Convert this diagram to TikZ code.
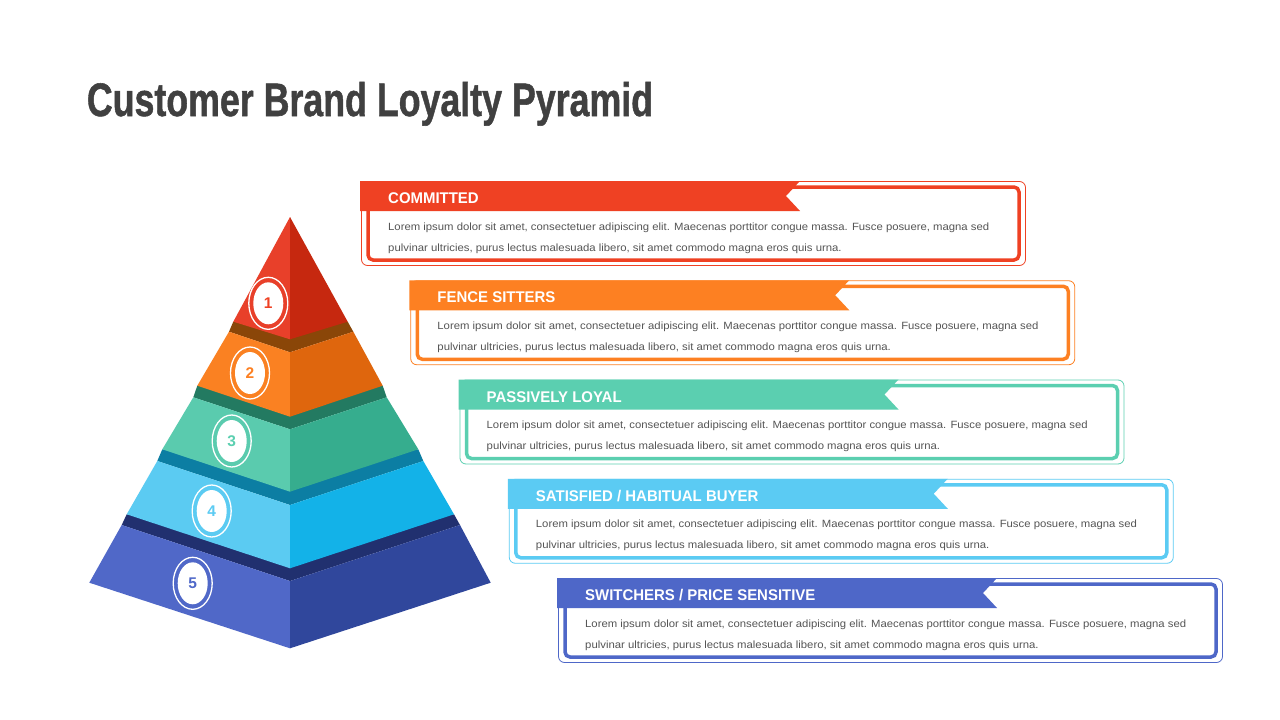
\documentclass[tikz,border=0pt]{standalone}
\usepackage{fontspec}
\setmainfont{Liberation Sans}
\newfontfamily\cardfont{Liberation Sans}[FakeStretch=0.965]
\newfontfamily\headfont{Liberation Sans}[FakeBold=1.2]
\usepackage{graphicx}
\definecolor{titlegray}{HTML}{404040}
\definecolor{bodygray}{HTML}{555555}
\definecolor{cRed}{HTML}{EF4123}
\definecolor{cOrange}{HTML}{FD8022}
\definecolor{cTeal}{HTML}{5BCFB0}
\definecolor{cSky}{HTML}{5BCBF3}
\definecolor{cBlue}{HTML}{4E67C8}
% pyramid faces
\definecolor{pAl}{HTML}{E8402A}\definecolor{pAr}{HTML}{C6280F}
\definecolor{pBt}{HTML}{8A4608}\definecolor{pBl}{HTML}{FA8122}\definecolor{pBr}{HTML}{DF660D}
\definecolor{pCt}{HTML}{237A61}\definecolor{pCl}{HTML}{5ACBAE}\definecolor{pCr}{HTML}{36AD8E}
\definecolor{pDt}{HTML}{0C7EA3}\definecolor{pDl}{HTML}{5BCBF2}\definecolor{pDr}{HTML}{13B2E8}
\definecolor{pEt}{HTML}{21306F}\definecolor{pEl}{HTML}{5068C8}\definecolor{pEr}{HTML}{30479C}
\newcommand\bodyA{Lorem ipsum dolor sit amet, consectetuer adipiscing elit. Maecenas porttitor congue massa. Fusce posuere, magna sed}
\newcommand\bodyB{pulvinar ultricies, purus lectus malesuada libero, sit amet commodo magna eros quis urna.}
\newcommand\mycard[3]{%
\begin{scope}[shift={({49.25*#1},{99.25*#1})}]
 \draw[#2, line width=0.8, rounded corners=6] (361.5,181.5) rectangle (1025.5,265.5);
 \draw[#2, fill=white, line width=3.5, rounded corners=5] (368,187) rectangle (1019,260);
 \fill[#2] (360,181) -- (800,181) -- (786,196) -- (800,211) -- (360,211) -- cycle;
 \node[titletext] (t#1) at (388,203.5) {#3};
 \node[bodytext] (a#1) at (388,230) {\resizebox{601pt}{\height}{\bodyA}};
 \node[bodytext] (b#1) at (388,251) {\resizebox{453.5pt}{\height}{\bodyB}};
\end{scope}}
\newcommand\mybadge[4]{%
 \fill[white] (#2) ellipse [x radius=15, y radius=21];
 \draw[white, line width=1.3] (#2) ellipse [x radius=19.5, y radius=26];
 \node[numtext, text=#3] (n#1) at (#2) {#4};}
\begin{document}
\begin{tikzpicture}[x=1pt,y=-1pt,
  titletext/.style={anchor=base west, inner sep=0, text=white, font=\cardfont\fontsize{15.5}{16}\selectfont\bfseries},
  bodytext/.style={anchor=base west, inner sep=0, text=bodygray, font=\fontsize{10.5}{12}\selectfont},
  numtext/.style={inner sep=0, font=\fontsize{15.5}{16}\selectfont\bfseries}]
\useasboundingbox (0,0) rectangle (1280,720);
\fill[white] (0,0) rectangle (1280,720);
\node[anchor=base west, inner sep=0, text=titlegray] (title) at (86.7,116)
  {\resizebox{566pt}{34pt}{\headfont\bfseries Customer Brand Loyalty Pyramid}};
% cards
\mycard{0}{cRed}{COMMITTED}
\mycard{1}{cOrange}{FENCE SITTERS}
\mycard{2}{cTeal}{PASSIVELY LOYAL}
\mycard{3}{cSky}{SATISFIED / HABITUAL BUYER}
\mycard{4}{cBlue}{SWITCHERS / PRICE SENSITIVE}
% pyramid coordinates
\coordinate (A) at (290,217);
\coordinate (L1) at (233.3,321.7); \coordinate (R1) at (347.7,321.7); \coordinate (F1) at (290,339.3);
\coordinate (TL2) at (229,331.7); \coordinate (TR2) at (353.3,331.7); \coordinate (TF2) at (290,352.3);
\coordinate (BL2) at (197.3,385.7); \coordinate (BR2) at (382.7,385.7); \coordinate (BF2) at (290,416.7);
\coordinate (TL3) at (193.3,397.3); \coordinate (TR3) at (386.7,397.3); \coordinate (TF3) at (290,429.3);
\coordinate (BL3) at (162.3,449.3); \coordinate (BR3) at (418.3,449.3); \coordinate (BF3) at (290,491.7);
\coordinate (TL4) at (157.3,461); \coordinate (TR4) at (423.3,461); \coordinate (TF4) at (290,505);
\coordinate (BL4) at (126.7,514.3); \coordinate (BR4) at (454,514.3); \coordinate (BF4) at (290,568.3);
\coordinate (TL5) at (121.7,525); \coordinate (TR5) at (460,525); \coordinate (TF5) at (290,581);
\coordinate (BL5) at (89.3,582.7); \coordinate (BR5) at (490.7,582.7); \coordinate (BF5) at (290,648.3);
% tier 5
\fill[pEt] (TL5) -- (BL4) -- (BR4) -- (TR5) -- (TF5) -- cycle;
\fill[pEl] (TL5) -- (BL5) -- (BF5) -- (TF5) -- cycle;
\fill[pEr] (TF5) -- (BF5) -- (BR5) -- (TR5) -- cycle;
\mybadge{5}{192.7,583.3}{cBlue}{5}
% tier 4
\fill[pDt] (TL4) -- (BL3) -- (BR3) -- (TR4) -- (TF4) -- cycle;
\fill[pDl] (TL4) -- (BL4) -- (BF4) -- (TF4) -- cycle;
\fill[pDr] (TF4) -- (BF4) -- (BR4) -- (TR4) -- cycle;
\mybadge{4}{211.7,511}{cSky}{4}
% tier 3
\fill[pCt] (TL3) -- (BL2) -- (BR2) -- (TR3) -- (TF3) -- cycle;
\fill[pCl] (TL3) -- (BL3) -- (BF3) -- (TF3) -- cycle;
\fill[pCr] (TF3) -- (BF3) -- (BR3) -- (TR3) -- cycle;
\mybadge{3}{231.7,441}{cTeal}{3}
% tier 2
\fill[pBt] (TL2) -- (L1) -- (R1) -- (TR2) -- (TF2) -- cycle;
\fill[pBl] (TL2) -- (BL2) -- (BF2) -- (TF2) -- cycle;
\fill[pBr] (TF2) -- (BF2) -- (BR2) -- (TR2) -- cycle;
\mybadge{2}{250,373}{cOrange}{2}
% tier 1
\fill[pAl] (A) -- (L1) -- (F1) -- cycle;
\fill[pAr] (A) -- (F1) -- (R1) -- cycle;
\mybadge{1}{268.3,303.3}{cRed}{1}
\end{tikzpicture}
\end{document}
